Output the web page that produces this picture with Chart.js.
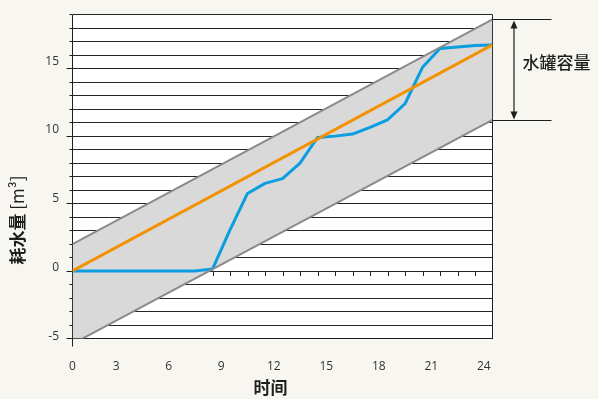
<!DOCTYPE html>
<html><head><meta charset="utf-8">
<script src="https://cdn.jsdelivr.net/npm/chart.js@4.4.1/dist/chart.umd.min.js"></script>
<style>
html,body{margin:0;padding:0;background:#f7f6f0;overflow:hidden}
#wrap{position:relative;width:598px;height:399px}
</style></head><body>
<div id="wrap"><canvas id="c" width="598" height="399"></canvas></div>
<script>
// ---- data ----
const hours = [0,1,2,3,4,5,6,7,8,9,10,11,12,13,14,15,16,17,18,19,20,21,22,23,24];
const consumption = [0,0,0,0,0,0,0,0,0.15,3.05,5.75,6.5,6.85,8.0,9.9,10.0,10.15,10.65,11.2,12.4,15.1,16.5,16.6,16.72,16.76];
const bandHours = [0, 24];
const upperLimit = [2.0, 18.65];
const lowerLimit = [-5.4, 11.2];
const plannedUse = [0, 16.76];
const xTickLabels = ['0','3','6','9','12','15','18','21','24'];
const yTickLabels = ['-5','0','5','10','15'];
const yTitle = '耗水量';
const yUnit = ' [m³]';
const xTitle = '时间';
const capacityLabel = '水罐容量';

// ---- helpers / styles ----
const pts = (xs, ys) => xs.map((x, i) => ({x: x, y: ys[i]}));
const FONT = "'Open Sans', 'Noto Sans', sans-serif";
const CJK = "'Noto Sans CJK SC', 'Noto Sans', sans-serif";
const INK = '#1e1e1e';
const BAND_LINE = '#8a8a8a';

const decor = {
  id: 'decor',
  beforeDraw(chart) {
    const {ctx, chartArea: a, scales: {x, y}} = chart;
    ctx.save();
    ctx.fillStyle = '#ffffff';
    ctx.fillRect(a.left, a.top, a.right - a.left, a.bottom - a.top);
    const y0 = Math.round(y.getPixelForValue(0));
    ctx.strokeStyle = INK; ctx.lineWidth = 1;
    ctx.beginPath();
    hours.forEach(h => {
      if (h === hours[0] || h === hours[hours.length - 1]) return;
      const px = Math.round(x.getPixelForValue(h)) + 0.5;
      ctx.moveTo(px, y0); ctx.lineTo(px, y0 + 5);
    });
    ctx.stroke();
    ctx.restore();
  },
  afterDraw(chart) {
    const {ctx, chartArea: a, scales: {x, y}} = chart;
    ctx.save();
    // x title
    ctx.fillStyle = INK;
    ctx.font = "bold 17px " + CJK;
    ctx.textAlign = 'center'; ctx.textBaseline = 'middle';
    ctx.fillText(xTitle, (a.left + a.right) / 2 - 12, 388);
    // y title
    ctx.save();
    ctx.translate(17.5, 220);
    ctx.rotate(-Math.PI / 2);
    ctx.font = "bold 17px " + CJK;
    const w1 = ctx.measureText(yTitle).width;
    ctx.font = "17px " + CJK;
    const w2 = ctx.measureText(yUnit).width;
    ctx.textAlign = 'left'; ctx.textBaseline = 'middle';
    ctx.font = "bold 17px " + CJK;
    ctx.fillText(yTitle, -(w1 + w2) / 2, 0);
    ctx.font = "17px " + CJK;
    ctx.fillText(yUnit, -(w1 + w2) / 2 + w1, 0);
    ctx.restore();
    // capacity annotation
    const r = a.right;
    const yU = Math.round(y.getPixelForValue(upperLimit[upperLimit.length - 1])) + 0.5;
    const yL = Math.round(y.getPixelForValue(lowerLimit[lowerLimit.length - 1])) + 0.5;
    ctx.strokeStyle = INK; ctx.lineWidth = 1.2;
    ctx.beginPath();
    ctx.moveTo(r, yU); ctx.lineTo(r + 59, yU);
    ctx.moveTo(r, yL); ctx.lineTo(r + 59, yL);
    const ax = r + 21.5;
    ctx.moveTo(ax, yU + 6); ctx.lineTo(ax, yL - 6);
    ctx.stroke();
    ctx.fillStyle = INK;
    ctx.beginPath();
    ctx.moveTo(ax, yU + 1); ctx.lineTo(ax - 3.5, yU + 9); ctx.lineTo(ax + 3.5, yU + 9); ctx.closePath();
    ctx.moveTo(ax, yL - 1); ctx.lineTo(ax - 3.5, yL - 9); ctx.lineTo(ax + 3.5, yL - 9); ctx.closePath();
    ctx.fill();
    ctx.font = "500 17px " + CJK;
    ctx.textAlign = 'left'; ctx.textBaseline = 'middle';
    ctx.fillText(capacityLabel, r + 30, (yU + yL) / 2 - 7.5);
    ctx.restore();
  }
};

new Chart(document.getElementById('c'), {
  type: 'line',
  data: {
    datasets: [
      {label: 'lower', data: pts(bandHours, lowerLimit), borderColor: BAND_LINE, borderWidth: 2, pointRadius: 0, fill: false},
      {label: 'upper', data: pts(bandHours, upperLimit), borderColor: BAND_LINE, borderWidth: 2, pointRadius: 0, fill: '-1', backgroundColor: '#d9d9d9'},
      {label: 'planned', data: pts(bandHours, plannedUse), borderColor: '#f39200', borderWidth: 3, pointRadius: 0, fill: false},
      {label: 'actual', data: pts(hours, consumption), borderColor: '#0a9ee0', borderWidth: 3, pointRadius: 0, fill: false, borderJoinStyle: 'round'}
    ]
  },
  options: {
    responsive: false, animation: false, devicePixelRatio: 1,
    layout: {padding: {top: 14.5, right: 105.5, bottom: 0, left: 0}},
    plugins: {legend: {display: false}, tooltip: {enabled: false}, filler: {drawTime: 'beforeDatasetsDraw'}},
    scales: {
      x: {
        type: 'linear', min: 0, max: 24, z: 1,
        afterBuildTicks: s => {
          s.ticks = xTickLabels.map(l => { const v = Number(l); return {value: v === 0 ? 0 : v - 0.5}; }).concat([{value: 24}]);
        },
        ticks: {autoSkip: false, maxRotation: 0, padding: 13, color: '#333', font: {family: FONT, size: 12},
          callback: (v, i) => (xTickLabels[i] !== undefined ? xTickLabels[i] : '')},
        grid: {
          drawOnChartArea: true, lineWidth: 1, tickLength: 8,
          color: c => (c.tick && (c.tick.value === 0 || c.tick.value === 24)) ? INK : 'rgba(0,0,0,0)',
          tickColor: c => (c.tick && c.tick.value === 0) ? INK : 'rgba(0,0,0,0)'
        },
        border: {display: true, color: INK, width: 1},
        afterFit: s => { s.height = 60.5; }
      },
      y: {
        type: 'linear', position: 'left', weight: 0, min: -5, max: 19,
        ticks: {display: false, stepSize: 1, autoSkip: false},
        grid: {color: '#262626', lineWidth: 1, tickLength: 6, tickColor: INK,
          tickBorderDash: c => (c.tick && c.tick.value % 5 === 0) ? [] : [0, 3, 3, 100]},
        border: {display: false},
        afterFit: s => { s.width = 6; }
      },
      yLab: {
        type: 'linear', axis: 'y', position: 'left', weight: 1, min: -5, max: 19,
        afterBuildTicks: s => {
          s.ticks = yTickLabels.map(l => ({value: Number(l) * 1.02 + 0.25}));
        },
        ticks: {autoSkip: false, padding: 7.5, color: '#333', font: {family: FONT, size: 12},
          callback: (v, i) => yTickLabels[i]},
        grid: {display: false, drawTicks: false, tickLength: 0},
        border: {display: false},
        afterFit: s => { s.width = 66.5; }
      }
    }
  },
  plugins: [decor]
});
</script>
</body></html>
